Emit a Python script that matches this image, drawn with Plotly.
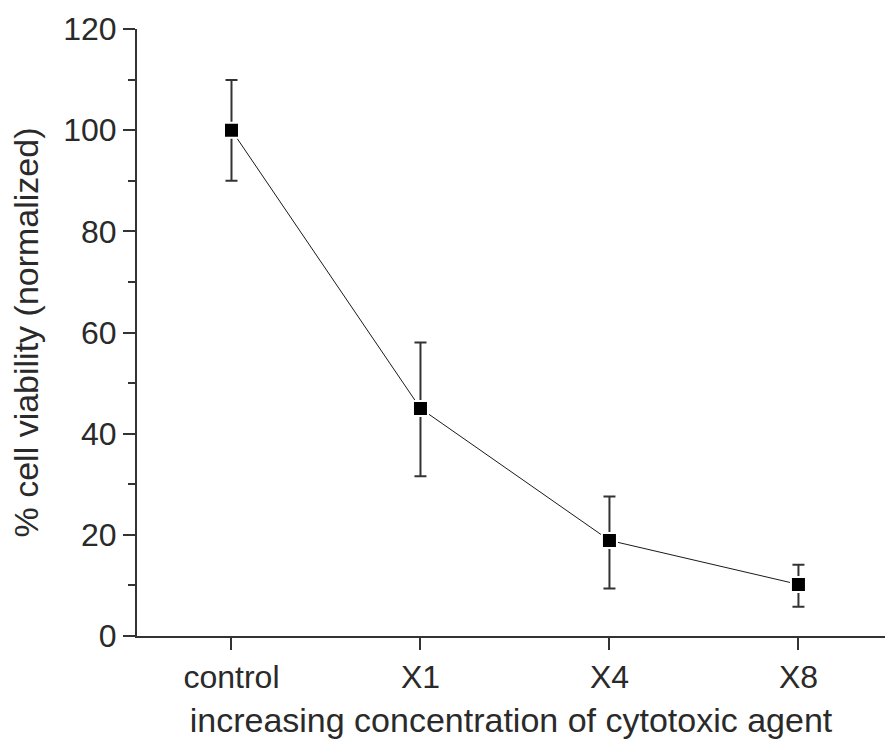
import plotly.graph_objects as go

categories = ["control", "X1", "X4", "X8"]
viability = [100.0, 45.0, 18.9, 10.2]
err_plus = [9.9, 13.0, 8.7, 3.9]
err_minus = [10.0, 13.4, 9.5, 4.4]
y_ticks = [0, 20, 40, 60, 80, 100, 120]

FONT = "Liberation Sans, Arial, sans-serif"
TXT = "#2a2a2a"

fig = go.Figure()
fig.add_trace(go.Scatter(
    x=categories, y=viability,
    mode="lines+markers",
    line=dict(color="#1a1a1a", width=1),
    marker=dict(symbol="square", size=15, color="black",
                line=dict(color="white", width=2)),
    error_y=dict(type="data", symmetric=False, array=err_plus,
                 arrayminus=err_minus, color="#333333",
                 thickness=2, width=6),
    showlegend=False,
))

fig.update_layout(
    width=885, height=744,
    margin=dict(l=137, r=0, t=29, b=108),
    paper_bgcolor="white", plot_bgcolor="white",
    font=dict(family=FONT, color=TXT, size=32),
)
fig.update_xaxes(
    type="category", range=[-0.5, 3.458],
    showline=True, linecolor="#333333", linewidth=2,
    ticks="outside", ticklen=12, tickwidth=2, tickcolor="#333333",
    showgrid=False, zeroline=False,
    tickfont=dict(size=32),
    title=dict(text="increasing concentration of cytotoxic agent",
               font=dict(size=34), standoff=14),
)
fig.update_yaxes(
    range=[0, 120], tickvals=y_ticks,
    showline=True, linecolor="#333333", linewidth=2,
    ticks="outside", ticklen=12, tickwidth=2, tickcolor="#333333",
    minor=dict(tickvals=[10, 30, 50, 70, 90, 110], ticks="outside",
               ticklen=7, tickwidth=2, tickcolor="#333333"),
    showgrid=False, zeroline=False,
    tickfont=dict(size=32),
    title=dict(text="% cell viability (normalized)",
               font=dict(size=34), standoff=14),
)

fig.write_html("out.html")
